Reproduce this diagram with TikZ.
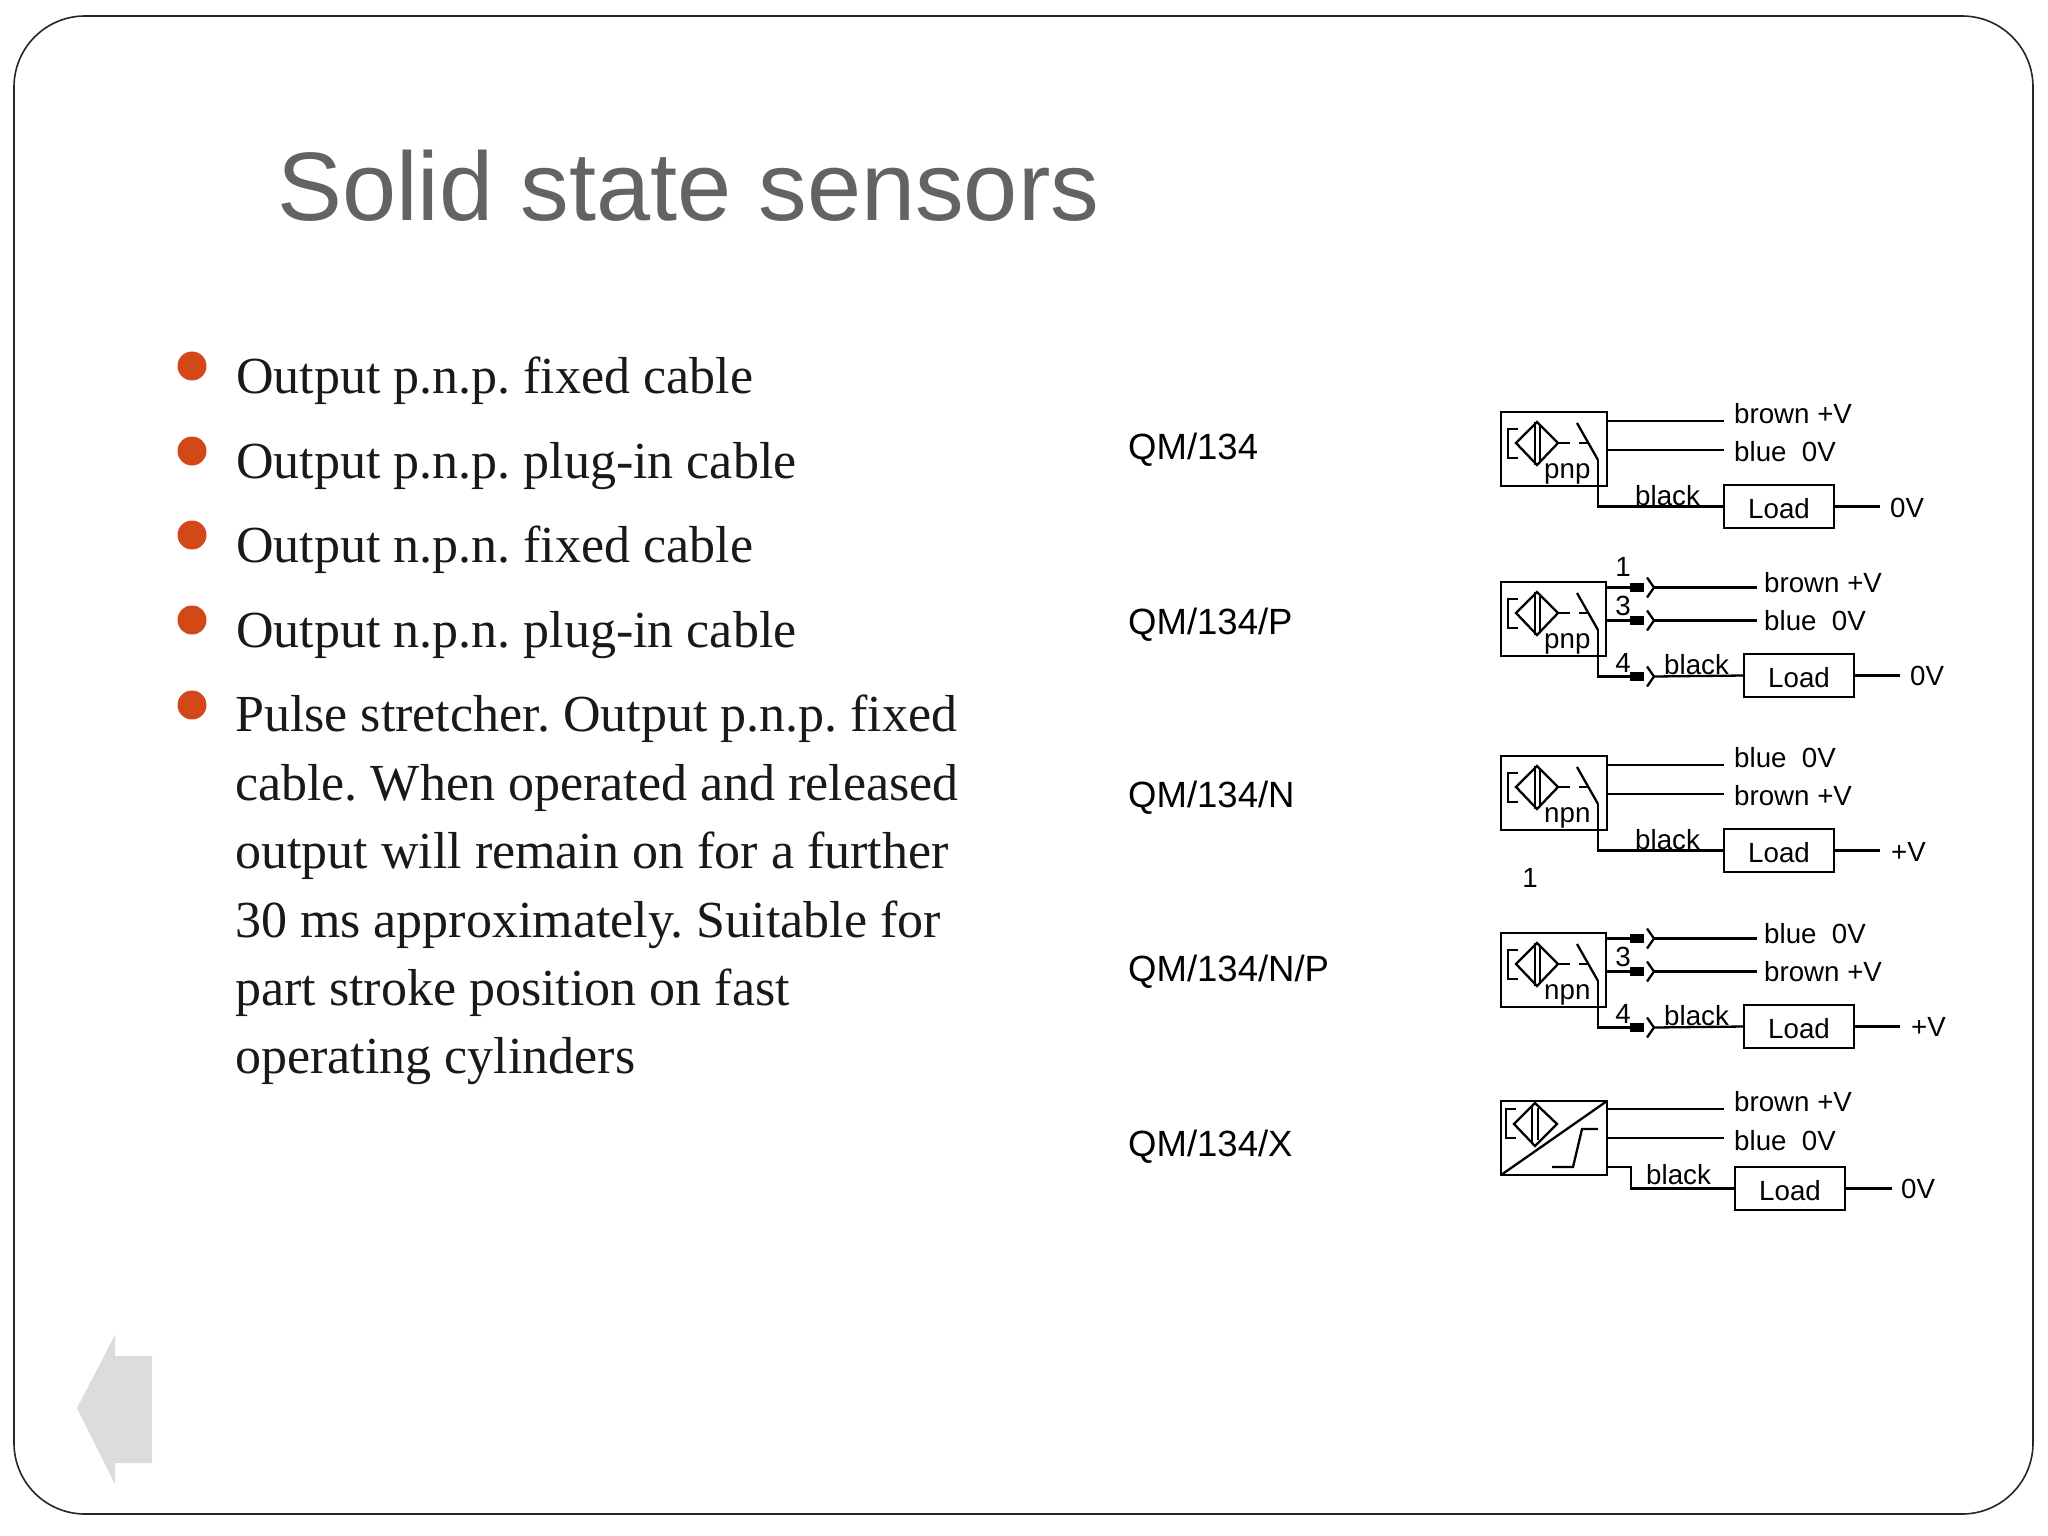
\documentclass[tikz,border=0pt]{standalone}
\usepackage{fontspec}
\setmainfont{Liberation Serif}
\setsansfont{Liberation Sans}
\usetikzlibrary{calc,positioning}

\definecolor{titlegray}{HTML}{636363}
\definecolor{bulletred}{HTML}{D34817}
\definecolor{arrowgray}{HTML}{DCDCDC}

\tikzset{
  wire/.style={line width=2.3pt},
  sensorbox/.style={draw,line width=2.3pt,anchor=north west,inner sep=0,outer sep=0,minimum width=106pt,minimum height=74pt},
  loadbox/.style={draw,line width=2.3pt,anchor=north west,inner sep=0,outer sep=0,minimum width=110pt,minimum height=43pt,
    text height=23pt,text depth=0pt,font=\sffamily\fontsize{27.7}{30}\selectfont},
  plugblock/.style={fill=black,anchor=north west,inner sep=0,outer sep=0,minimum width=14pt,minimum height=9pt},
  wiretext/.style={anchor=base west,inner sep=0,xshift=-1pt,font=\sffamily\fontsize{27.7}{30}\selectfont},
  pintext/.style={anchor=base,inner sep=0,font=\sffamily\fontsize{27.7}{30}\selectfont},
  typetext/.style={anchor=base west,inner sep=0,font=\sffamily\fontsize{36.5}{40}\selectfont},
  bodytext/.style={anchor=base west,inner sep=0,text=black!90,font=\rmfamily\frenchspacing\fontsize{52}{55}\selectfont},
  % proximity symbol, drawn from the top left corner of the box
  sensorsym/.pic={
    \draw[wire] (17,17) -- (7,17) -- (7,46) -- (17,46);
    \draw[wire] (15,31) -- (36,10) -- (57,31) -- (36,53) -- cycle;
    \draw[wire] (34,10) -- (34,53);
    \draw[wire] (39,12) -- (39,49);
    \draw[wire] (57,31) -- (69,31);
    \draw[wire] (76,11) -- (97,48);
    \draw[wire] (78,31) -- (87,31);
  },
  % one half of a plug: the socket mark
  plugmark/.pic={
    \draw[wire] (3,-10) -- (10,0) -- (3,10);
  }
}

\begin{document}
\begin{tikzpicture}[x=1pt,y=-1pt]
  \useasboundingbox (0,0) rectangle (2048,1536);

  % slide frame and back arrow
  \draw[line width=1.6pt,black!85,rounded corners=71pt] (14,16) rectangle (2033,1514);
  \fill[arrowgray] (77,1408) -- (115,1335) -- (115,1356) -- (152,1356) -- (152,1463) -- (115,1463) -- (115,1484) -- cycle;

  % title
  \node[anchor=base west,inner sep=0,text=titlegray,font=\sffamily\fontsize{97.3}{100}\selectfont] (title) at (277,220) {Solid state sensors};

  % bullets
  \foreach \n/\yy in {1/366,2/451,3/535,4/620,5/705}
    \fill[bulletred] (192,\yy) circle (14.5);

  % text lines
  \foreach \n/\xx/\yy/\txt in {
    a/236/393/Output p.n.p. fixed cable,
    b/236/478/Output p.n.p. plug-in cable,
    c/236/562/Output n.p.n. fixed cable,
    d/236/647/Output n.p.n. plug-in cable,
    e/235/731/Pulse stretcher. Output p.n.p. fixed,
    f/235/800/cable. When operated and released,
    g/235/868/output will remain on for a further,
    h/235/937/30 ms approximately. Suitable for,
    i/235/1005/part stroke position on fast,
    j/235/1073/operating cylinders}
    \node[bodytext] (line\n) at (\xx,\yy) {\txt};

  % type names
  \foreach \n/\yy/\txt in {a/459/QM\slash 134,b/634/QM\slash 134\slash P,c/807/QM\slash 134\slash N,d/981/QM\slash 134\slash N\slash P,e/1156/QM\slash 134\slash X}
    \node[typetext] (type\n) at (1128,\yy) {\txt};

  % fixed cable, pnp and npn
  \foreach \n/\dy/\ta/\tb/\tc/\kind/\tx in {a/0/brown +V/blue\ \ 0V/0V/pnp/1891, c/344/blue\ \ 0V/brown +V/+V/npn/1892}{
    \begin{scope}[shift={(0,\dy)}]
      \node[sensorbox] (s\n) at (1501,412) {};
      \pic at (1501,412) {sensorsym};
      \node[wiretext] (kind\n) at (1545,478) {\kind};
      \coordinate (e\n1) at (1724,421);
      \coordinate (e\n2) at (1724,450);
      \coordinate (k\n) at (1598,460);
      \coordinate (o\n) at (1880,506.5);
      \node[loadbox] (l\n) at (1724,485) {Load};
      \draw[wire] (s\n.east |- e\n1) -- (e\n1);
      \draw[wire] (s\n.east |- e\n2) -- (e\n2);
      \draw[wire] (k\n) -- (k\n |- l\n.west) -- (l\n.west);
      \draw[wire] (l\n.east) -- (o\n);
      \node[wiretext] (a\n) at (1735,423) {\ta};
      \node[wiretext] (b\n) at (1735,461.5) {\tb};
      \node[wiretext] (c\n) at (1636,505) {black};
      \node[wiretext] (v\n) at (\tx,517) {\tc};
    \end{scope}
  }

  % plug-in cable, pnp and npn
  \foreach \n/\dy/\ta/\tb/\tc/\kind/\tx in {b/0/brown +V/blue\ \ 0V/0V/pnp/1911, d/351/blue\ \ 0V/brown +V/+V/npn/1912}{
    \begin{scope}[shift={(0,\dy)}]
      \node[sensorbox,minimum width=105pt] (s\n) at (1501,582) {};
      \pic at (1501,582) {sensorsym};
      \node[wiretext] (kind\n) at (1545,648) {\kind};
      \node[plugblock] (p\n1) at (1630,583) {};
      \node[plugblock] (p\n2) at (1630,616) {};
      \node[plugblock] (p\n3) at (1630,672) {};
      \pic at (1644,587.5) {plugmark};
      \pic at (1644,620.5) {plugmark};
      \pic at (1644,676.5) {plugmark};
      \coordinate (e\n1) at (1757,587.5);
      \coordinate (e\n2) at (1757,620.5);
      \coordinate (k\n) at (1598,630);
      \coordinate (o\n) at (1900,675.5);
      \node[loadbox] (l\n) at (1744,654) {Load};
      \draw[wire] (s\n.east |- p\n1) -- (p\n1);
      \draw[wire] (s\n.east |- p\n2) -- (p\n2);
      \draw[wire] (p\n1.east) ++(10,0) -- (e\n1);
      \draw[wire] (p\n2.east) ++(10,0) -- (e\n2);
      \draw[wire] (k\n) -- (k\n |- p\n3) -- (p\n3);
      \draw[wire] (p\n3.east) ++(10,0) -- (l\n.west);
      \draw[wire] (l\n.east) -- (o\n);
      \node[wiretext] (a\n) at (1765,592) {\ta};
      \node[wiretext] (b\n) at (1765,630.5) {\tb};
      \node[wiretext] (c\n) at (1665,674) {black};
      \node[wiretext] (v\n) at (\tx,685) {\tc};
      \node[pintext] (pin\n3) at (1623,615) {3};
      \node[pintext] (pin\n4) at (1623,672) {4};
    \end{scope}
  }
  \node[pintext] (pinb1) at (1623,576) {1};
  \node[pintext] (pinc1) at (1530,887) {1};

  % pulse stretcher
  \node[sensorbox] (se) at (1501,1101) {};
  \draw[wire] (se.south west) -- (se.north east);
  \draw[wire] (1516,1109) -- (1506,1109) -- (1506,1138) -- (1516,1138);
  \draw[wire] (1514,1124) -- (1535,1103) -- (1557,1124) -- (1535,1146) -- cycle;
  \draw[wire] (1532,1105) -- (1532,1143);
  \draw[wire] (1538,1108) -- (1538,1140);
  \draw[wire] (1552,1167) -- (1573,1167) -- (1582,1129) -- (1598,1129);
  \coordinate (ee1) at (1724,1109);
  \coordinate (ee2) at (1724,1138);
  \coordinate (ke) at (1607,1167);
  \coordinate (oe) at (1892,1188.5);
  \node[loadbox] (le) at (1735,1167) {Load};
  \draw[wire] (se.east |- ee1) -- (ee1);
  \draw[wire] (se.east |- ee2) -- (ee2);
  \draw[wire] (ke) -- (1631,1167) -- (1631,1188.5) -- (le.west);
  \draw[wire] (le.east) -- (oe);
  \node[wiretext] (ae) at (1735,1111) {brown +V};
  \node[wiretext] (be) at (1735,1150) {blue\ \ 0V};
  \node[wiretext] (ce) at (1647,1184) {black};
  \node[wiretext] (ve) at (1902,1198) {0V};
\end{tikzpicture}
\end{document}
